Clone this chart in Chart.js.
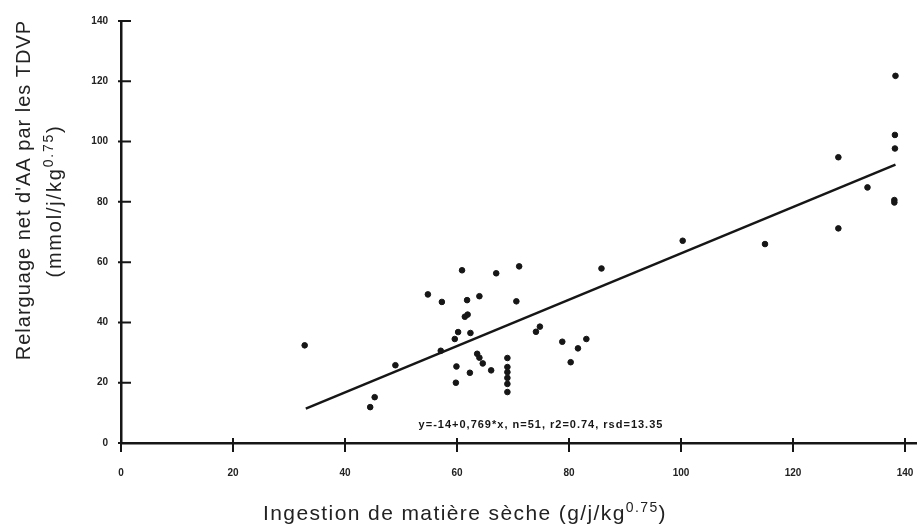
<!DOCTYPE html>
<html>
<head>
<meta charset="utf-8">
<script src="https://cdn.jsdelivr.net/npm/chart.js@4.4.1/dist/chart.umd.min.js"></script>
<style>
  html, body { margin: 0; padding: 0; background: #fff; }
  #wrap { width: 920px; height: 526px; position: relative; }
</style>
</head>
<body>
<div id="wrap"><canvas id="scatterChart"></canvas></div>
<script>
// Ingestion de MS (g/j/kg0.75) et relarguage net d'AA (mmol/j/kg0.75)
const ingestion = [
  32.8, 44.5, 45.3, 49.0, 54.8, 57.3, 57.1, 60.9, 67.0, 71.1,
  61.8, 64.0, 70.6, 61.4, 61.9, 60.2, 59.6, 62.4, 74.8, 74.1,
  78.8, 81.6, 80.3, 83.1, 63.6, 64.0, 64.6, 59.9, 62.3, 66.1,
  59.8, 69.0, 69.0, 69.0, 69.0, 69.0, 69.0, 85.8, 100.3, 115.0,
  128.1, 128.1, 133.3, 138.1, 138.1, 138.2, 138.2, 138.3
];
const relarguage = [
  32.4, 11.9, 15.2, 25.8, 49.3, 46.8, 30.6, 57.3, 56.3, 58.6,
  47.4, 48.7, 47.0, 41.9, 42.6, 36.8, 34.5, 36.5, 38.6, 36.9,
  33.6, 31.4, 26.8, 34.5, 29.6, 28.3, 26.4, 25.4, 23.3, 24.1,
  20.0, 28.2, 25.2, 23.5, 21.6, 19.6, 16.9, 57.9, 67.1, 66.0,
  71.2, 94.8, 84.8, 80.6, 79.8, 97.7, 102.2, 121.8
];

// droite de régression
const fitIntercept = -14;
const fitSlope = 0.769;
const fitX = [33, 138.3];
const fitLabel = 'y=-14+0,769*x, n=51, r2=0.74, rsd=13.35';

const xTicks = [0, 20, 40, 60, 80, 100, 120, 140];
const yTicks = [0, 20, 40, 60, 80, 100, 120, 140];

const xTitle = ['Ingestion de matière sèche (g/j/kg', '0.75', ')'];
const yTitle1 = 'Relarguage net d\'AA par les TDVP';
const yTitle2 = ['(mmol/j/kg', '0.75', ')'];

const points = ingestion.map((v, i) => ({ x: v, y: relarguage[i] }));
const fitLine = fitX.map(v => ({ x: v, y: fitIntercept + fitSlope * v }));

const ink = '#161616';
const fam = '"Liberation Sans", Arial, sans-serif';

// text with a raised exponent, centred on (cx, cy)
function drawSup(ctx, parts, cx, cy, size, spacing) {
  const main = size + 'px ' + fam;
  const sup = Math.round(size * 0.68) + 'px ' + fam;
  ctx.letterSpacing = spacing + 'px';
  ctx.font = main;
  const w1 = ctx.measureText(parts[0]).width;
  const w3 = ctx.measureText(parts[2]).width;
  ctx.font = sup;
  const w2 = ctx.measureText(parts[1]).width;
  let x = cx - (w1 + w2 + w3) / 2;
  ctx.textAlign = 'left';
  ctx.textBaseline = 'alphabetic';
  ctx.font = main;
  ctx.fillText(parts[0], x, cy);
  x += w1;
  ctx.font = sup;
  ctx.fillText(parts[1], x, cy - size * 0.38);
  x += w2;
  ctx.font = main;
  ctx.fillText(parts[2], x, cy);
  ctx.letterSpacing = '0px';
}

const decorations = {
  id: 'decorations',
  afterDraw(chart) {
    const { ctx, scales: { x, y } } = chart;
    ctx.save();

    // tick marks crossing both axes
    ctx.strokeStyle = ink;
    ctx.lineWidth = 2;
    ctx.beginPath();
    x.ticks.forEach(t => {
      const px = x.getPixelForValue(t.value);
      ctx.moveTo(px, y.bottom - 5);
      ctx.lineTo(px, y.bottom + 9);
    });
    y.ticks.forEach(t => {
      const py = y.getPixelForValue(t.value);
      ctx.moveTo(x.left - 3, py);
      ctx.lineTo(x.left + 10, py);
    });
    ctx.stroke();

    // equation of the fit
    ctx.fillStyle = ink;
    ctx.font = 'bold 11px ' + fam;
    ctx.letterSpacing = '1px';
    ctx.textAlign = 'center';
    ctx.textBaseline = 'middle';
    ctx.fillText(fitLabel, x.getPixelForValue(75), y.getPixelForValue(6));
    ctx.letterSpacing = '0px';

    // axis titles
    ctx.fillStyle = '#222';
    drawSup(ctx, xTitle, 465, 520, 21, 1.4);

    ctx.save();
    ctx.translate(30, 190);
    ctx.rotate(-Math.PI / 2);
    ctx.font = '20px ' + fam;
    ctx.letterSpacing = '1px';
    ctx.textAlign = 'center';
    ctx.textBaseline = 'alphabetic';
    ctx.fillText(yTitle1, 0, 0);
    ctx.letterSpacing = '0px';
    ctx.restore();

    ctx.save();
    ctx.translate(61, 201);
    ctx.rotate(-Math.PI / 2);
    drawSup(ctx, yTitle2, 0, 0, 20, 1.8);
    ctx.restore();

    ctx.restore();
  }
};

const tickFont = { family: fam, size: 10, weight: 'bold' };

new Chart(document.getElementById('scatterChart'), {
  type: 'scatter',
  data: {
    datasets: [
      {
        label: 'observations',
        data: points,
        backgroundColor: ink,
        borderColor: ink,
        pointRadius: 2.8,
        pointHoverRadius: 2.8
      },
      {
        label: 'régression',
        data: fitLine,
        showLine: true,
        borderColor: ink,
        borderWidth: 2.5,
        pointRadius: 0,
        fill: false
      }
    ]
  },
  options: {
    responsive: true,
    maintainAspectRatio: false,
    animation: false,
    layout: { padding: { top: 21, right: 1, left: 0, bottom: 0 } },
    plugins: {
      legend: { display: false },
      tooltip: { enabled: false }
    },
    scales: {
      x: {
        type: 'linear',
        min: 0,
        max: 142,
        afterBuildTicks: axis => { axis.ticks = xTicks.map(v => ({ value: v })); },
        afterFit: axis => {
          axis.height = 83;
          axis.paddingLeft = 0;
          axis.paddingRight = 0;
        },
        grid: { display: false, drawTicks: false },
        border: { display: true, color: ink, width: 2.5 },
        ticks: { color: '#222', font: tickFont, padding: 24, maxRotation: 0 }
      },
      y: {
        type: 'linear',
        min: 0,
        max: 140,
        afterBuildTicks: axis => { axis.ticks = yTicks.map(v => ({ value: v })); },
        afterFit: axis => {
          axis.width = 121;
          axis.paddingTop = 0;
          axis.paddingBottom = 0;
        },
        grid: { display: false, drawTicks: false },
        border: { display: true, color: ink, width: 2.5 },
        ticks: { color: '#222', font: tickFont, padding: 13 }
      }
    }
  },
  plugins: [decorations]
});
</script>
</body>
</html>
